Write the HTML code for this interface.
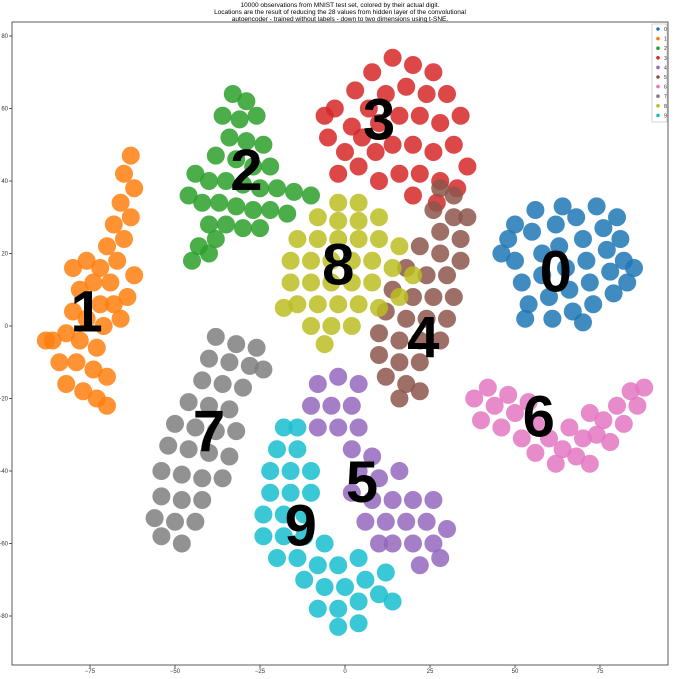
<!DOCTYPE html>
<html><head><meta charset="utf-8"><style>
body{margin:0;background:#fff;}
svg text{font-family:"Liberation Sans",sans-serif;}
</style></head><body>
<svg id="chart" width="675" height="674" xmlns="http://www.w3.org/2000/svg">
<text x="340" y="7" font-size="6.5" text-anchor="middle">10000 observations from MNIST test set, colored by their actual digit.</text>
<text x="340" y="14" font-size="6.5" text-anchor="middle">Locations are the result of reducing the 28 values from hidden layer of the convolutional</text>
<text x="340" y="21" font-size="6.5" text-anchor="middle">autoencoder - trained without labels - down to two dimensions using t-SNE.</text>
<g id="marks"></g>
<g id="labels"></g>
<rect x="12" y="22" width="656" height="643" fill="none" stroke="#333" stroke-width="0.8"/>
<g id="axes"></g>
<g id="legend"></g>
</svg>
<script>
const xTicks=[-75,-50,-25,0,25,50,75];
const yTicks=[80,60,40,20,0,-20,-40,-60,-80];
const digits=["0","1","2","3","4","5","6","7","8","9"];
const colors=["#1f77b4","#ff7f0e","#2ca02c","#d62728","#9467bd","#8c564b","#e377c2","#7f7f7f","#bcbd22","#17becf"];
const pts0=[[48,24],[50,18],[52,12],[54,6],[55,26],[58,20],[58,14],[60,8],[61,2],[62,28],[63,22],[65,16],[66,10],[67,4],[68,30],[70,24],[71,18],[72,12],[73,6],[74,33],[76,27],[77,21],[78,15],[79,9],[81,24],[82,18],[83,12],[46,20],[50,28],[56,32],[64,33],[80,30],[70,1],[85,16],[53,2]];
const pts1=[[-63,47],[-65,42],[-62,38],[-66,34],[-63,30],[-68,28],[-65,24],[-70,22],[-67,18],[-72,16],[-76,18],[-74,12],[-69,12],[-64,8],[-68,6],[-72,6],[-78,10],[-80,4],[-76,2],[-71,0],[-66,2],[-82,-2],[-86,-4],[-78,-4],[-73,-6],[-84,-10],[-79,-10],[-74,-12],[-70,-14],[-82,-16],[-77,-18],[-73,-20],[-70,-22],[-88,-4],[-62,14],[-80,16]];
const pts2=[[-33,64],[-29,62],[-36,58],[-31,57],[-26,58],[-34,52],[-29,51],[-24,50],[-38,47],[-32,46],[-27,44],[-22,44],[-44,42],[-40,40],[-35,40],[-30,39],[-25,38],[-20,38],[-15,37],[-10,36],[-46,36],[-42,34],[-37,34],[-32,33],[-27,32],[-22,32],[-17,31],[-40,28],[-35,28],[-30,27],[-25,27],[-43,22],[-45,18],[-40,20],[-38,24]];
const pts3=[[-3,60],[3,65],[8,70],[14,74],[20,72],[26,70],[2,55],[7,60],[12,64],[18,66],[24,64],[30,64],[-5,52],[0,48],[5,52],[10,56],[16,58],[22,58],[28,56],[34,58],[4,44],[9,48],[14,50],[20,50],[26,48],[32,50],[36,44],[10,40],[16,42],[22,42],[28,40],[33,38],[-2,42],[20,36],[27,34],[-6,58]];
const pts4=[[-8,-16],[-2,-14],[4,-16],[-10,-22],[-4,-22],[2,-22],[-8,-28],[-2,-28],[4,-28],[2,-34],[8,-36],[4,-40],[10,-42],[16,-40],[2,-46],[8,-48],[14,-48],[20,-48],[6,-54],[12,-54],[18,-54],[24,-54],[14,-60],[20,-60],[26,-60],[30,-56],[22,-66],[28,-64],[10,-60],[26,-48]];
const pts5=[[28,38],[32,36],[26,32],[32,30],[28,26],[34,24],[22,22],[28,20],[34,18],[18,16],[24,14],[30,14],[14,10],[20,8],[26,8],[32,8],[12,4],[18,2],[24,2],[30,2],[10,-2],[16,-4],[22,-4],[28,-4],[10,-8],[16,-10],[22,-10],[12,-14],[18,-16],[22,-18],[16,-20],[36,30]];
const pts6=[[38,-20],[42,-17],[44,-22],[40,-26],[46,-28],[50,-24],[48,-19],[52,-31],[56,-27],[56,-35],[60,-31],[62,-38],[64,-34],[68,-36],[70,-31],[72,-38],[74,-30],[76,-26],[78,-32],[80,-22],[82,-27],[84,-18],[86,-22],[88,-17],[66,-28],[72,-24],[54,-21]];
const pts7=[[-38,-3],[-32,-5],[-26,-6],[-40,-9],[-34,-10],[-28,-11],[-24,-12],[-42,-15],[-36,-16],[-30,-17],[-46,-21],[-40,-22],[-34,-23],[-50,-27],[-44,-28],[-38,-29],[-32,-29],[-52,-33],[-46,-34],[-40,-35],[-34,-36],[-54,-40],[-48,-41],[-42,-42],[-36,-42],[-54,-47],[-48,-48],[-42,-48],[-56,-53],[-50,-54],[-44,-54],[-54,-58],[-48,-60]];
const pts8=[[-2,34],[4,34],[-8,30],[-2,29],[4,29],[10,30],[-14,24],[-8,24],[-2,24],[4,24],[10,24],[16,22],[-16,18],[-10,18],[-4,18],[2,18],[8,18],[14,16],[-16,12],[-10,12],[-4,12],[2,12],[8,12],[-14,6],[-8,6],[-2,6],[4,6],[10,5],[-10,0],[-4,0],[2,0],[-6,-5],[20,14],[-18,5],[16,8]];
const pts9=[[-18,-28],[-14,-28],[-20,-34],[-14,-34],[-22,-40],[-16,-40],[-10,-40],[-22,-46],[-16,-46],[-10,-46],[-24,-52],[-18,-52],[-12,-52],[-24,-58],[-18,-58],[-12,-58],[-6,-60],[-20,-64],[-14,-64],[-8,-66],[-2,-66],[4,-64],[-12,-70],[-6,-72],[0,-72],[6,-70],[12,-68],[-8,-78],[-2,-78],[4,-76],[10,-74],[-2,-83],[4,-82],[14,-76]];
const series=[pts0,pts1,pts2,pts3,pts4,pts5,pts6,pts7,pts8,pts9];
const annoText=["1","2","3","8","0","4","6","7","5","9"];
const annoPos=[[-76,4],[-29,43],[10,57],[-2,17],[62,15],[23,-3],[57,-25],[-40,-29],[5,-43],[-13,-55]];

const NS="http://www.w3.org/2000/svg";
const X=v=>345+v*3.4, Y=v=>326-v*3.625;
function mk(t,a,p){const e=document.createElementNS(NS,t);for(const k in a)e.setAttribute(k,a[k]);p.appendChild(e);return e;}
const marks=document.getElementById('marks');
series.forEach((s,i)=>{
  const g=mk('g',{},marks);
  
  
  s.forEach(p=>{
    const c=mk('circle',{cx:X(p[0]),cy:Y(p[1]),r:9,fill:colors[i],opacity:0.85},g);
    
    
  });
});
const lab=document.getElementById('labels');
annoText.forEach((t,i)=>{
  const e=mk('text',{x:X(annoPos[i][0]),y:Y(annoPos[i][1])+20,'font-size':58,'font-weight':'bold','text-anchor':'middle',fill:'#000','font-family':'"DejaVu Sans",sans-serif'},lab);
  e.textContent=t;
  
  
});
const ax=document.getElementById('axes');
xTicks.forEach(v=>{
  const l=mk('line',{x1:X(v),x2:X(v),y1:665,y2:668,stroke:'#333','stroke-width':0.8},ax);
  
  
  const t=mk('text',{x:X(v),y:673,'font-size':6,'text-anchor':'middle',fill:'#333'},ax);
  t.textContent=v<0?'\u2212'+(-v):v;
  
  
});
yTicks.forEach(v=>{
  const l=mk('line',{x1:9,x2:12,y1:Y(v),y2:Y(v),stroke:'#333','stroke-width':0.8},ax);
  
  
  const t=mk('text',{x:8,y:Y(v)+2,'font-size':6,'text-anchor':'end',fill:'#333'},ax);
  t.textContent=v<0?'\u2212'+(-v):v;
  
  
});
const lg=document.getElementById('legend');
const box=mk('rect',{x:652,y:24,width:15,height:98,fill:'#fff',stroke:'#ccc','stroke-width':0.8},lg);


digits.forEach((d,i)=>{
  const y=29+i*9.6;
  const c=mk('circle',{cx:658,cy:y,r:1.8,fill:colors[i]},lg);
  
  
  const t=mk('text',{x:664,y:y+2,'font-size':5,fill:'#333'},lg);
  t.textContent=d;
  
  
});
</script>
</body></html>
